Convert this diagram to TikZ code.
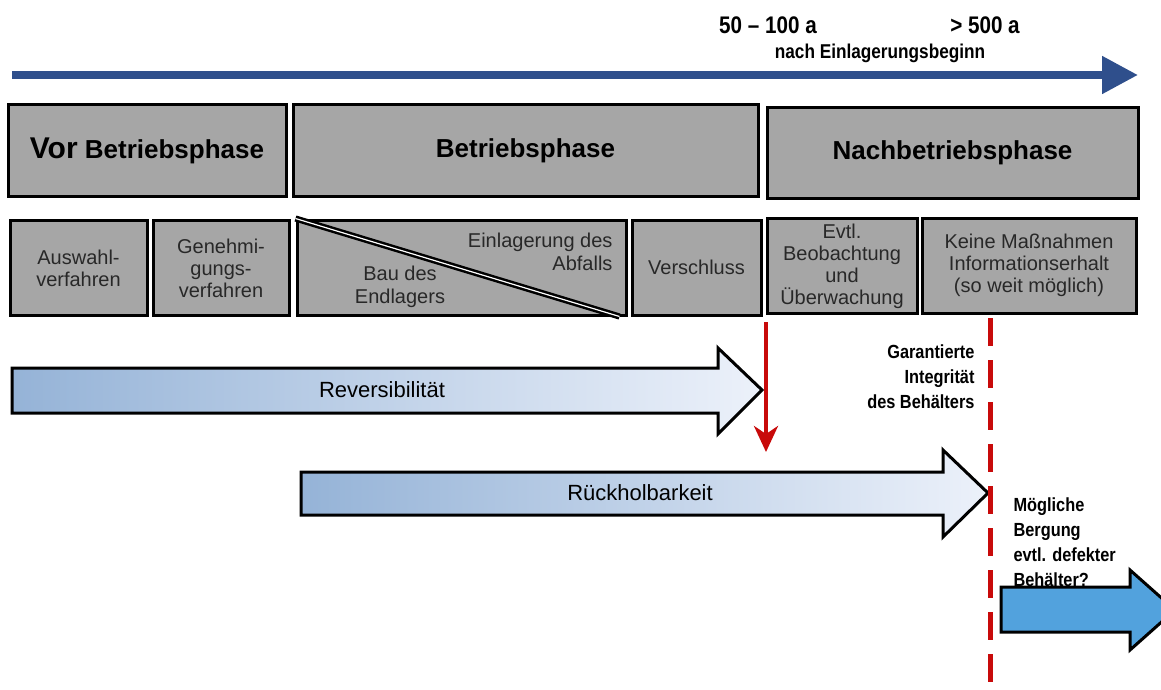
\documentclass[tikz,border=0pt]{standalone}
\usepackage{fontspec}
\setmainfont{Liberation Sans}
\newfontfamily\narrowsf[FakeStretch=0.86]{Liberation Sans}
\usetikzlibrary{positioning}
\usetikzlibrary{arrows.meta}
\definecolor{boxgray}{RGB}{166,166,166}
\definecolor{textgray}{RGB}{40,40,40}
\definecolor{timeblue}{RGB}{47,79,140}
\definecolor{darkred}{RGB}{200,10,10}
\definecolor{paleblue}{RGB}{149,179,215}
\definecolor{whiteblue}{RGB}{236,241,250}
\definecolor{skyblue}{RGB}{82,162,221}

\begin{document}
\begin{tikzpicture}[x=1pt, y=-1pt,
    phase/.style = {draw, line width=3pt, fill=boxgray, inner sep=0pt, font=\fontsize{26}{30}\selectfont\bfseries},
    stage/.style = {draw, line width=3pt, fill=boxgray, inner sep=0pt, minimum height=95pt, text=textgray, align=center, font=\fontsize{20}{22}\selectfont},
    block/.style = {draw, line width=3pt, line join=miter},
    note/.style = {font=\narrowsf\fontsize{19}{25}\selectfont\bfseries}]
            \useasboundingbox (0,0) rectangle (1161,690);
            % time axis
            \coordinate (t0) at (12,75);
            \coordinate (t1) at (1138,75);
            \draw[timeblue, line width=8pt, -{Triangle[length=36pt,width=36pt]}] (t0) -- (t1);
            \node[note, font=\narrowsf\fontsize{24}{28}\selectfont\bfseries](y100) at (768,25){50 – 100 a};
            \node[note, font=\narrowsf\fontsize{24}{28}\selectfont\bfseries](y500) at (985,25){> 500 a};
            \node[note, font=\narrowsf\fontsize{20}{24}\selectfont\bfseries](nach) at (880,53){nach Einlagerungsbeginn};
            % phases
            \node[phase, minimum width=278pt, minimum height=91pt](vor) at (147,150.5){{\fontsize{30}{34}\selectfont Vor} Betriebsphase};
            \node[phase, minimum width=465pt, minimum height=91pt](betrieb) at (525.5,150.5){Betriebsphase};
            \node[phase, minimum width=371pt, minimum height=90pt](nach betrieb) at (952.5,153){Nachbetriebsphase};
            % stages
            \node[stage, minimum width=137pt](auswahl) at (78.5,268){Auswahl-\\verfahren};
            \node[stage, minimum width=136pt](genehm) at (221,268){Genehmi-\\gungs-\\verfahren};
            \node[stage, minimum width=329pt](bau) at (461.5,267.5){};
            \draw[line width=2.5pt, double=white, double distance=1.2pt] (bau.north west) -- ([xshift=-8pt]bau.south east);
            \node[text=textgray, align=right, anchor=north east, font=\fontsize{20}{23}\selectfont](einl) at (616,229){Einlagerung des\\Abfalls};
            \node[text=textgray, align=center, font=\fontsize{20}{23}\selectfont](endl) at (400,287){Bau des\\Endlagers};
            \node[stage, minimum width=129pt](verschl) at (696.5,267.5){Verschluss};
            \node[stage, minimum width=150pt](beob) at (842,266){Evtl.\\Beobachtung\\und\\Überwachung};
            \node[stage, minimum width=214pt](keine) at (1029,265.5){Keine Maßnahmen\\Informationserhalt\\(so weit möglich)};
            % Reversibilitaet
            \draw[block, left color=paleblue, right color=whiteblue] (12,368) -- (718,368) -- (718,348) -- (762,390) -- (718,434) -- (718,413) -- (12,413) -- cycle;
            \node[font=\fontsize{22}{26}\selectfont](rev) at (382,390){Reversibilität};
            \coordinate (r0) at (766,322);
            \coordinate (r1) at (766,452);
            \draw[darkred, line width=4pt, -{Stealth[length=26pt,width=24pt,inset=8pt]}] (r0) -- (r1);
            % Rueckholbarkeit
            \draw[block, left color=paleblue, right color=whiteblue] (301,472) -- (943,472) -- (943,450) -- (988,493) -- (943,537) -- (943,515) -- (301,515) -- cycle;
            \node[font=\fontsize{22}{26}\selectfont](rueck) at (640,493){Rückholbarkeit};
            % integrity limit
            \coordinate (d0) at (990,318);
            \coordinate (d1) at (990,695);
            \draw[darkred, line width=5pt, dash pattern=on 28pt off 14pt] (d0) -- (d1);
            \node[note, align=right, anchor=north east](integr) at (978,341){Garantierte\\Integrität\\des Behälters};
            \node[note, align=left, anchor=north west](bergung) at (1010,494){Mögliche\\Bergung\\evtl. defekter\\Behälter?};
            \draw[block, fill=skyblue] (1001,587) -- (1130,587) -- (1130,570) -- (1175,610) -- (1130,650) -- (1130,632) -- (1001,632) -- cycle;
        \end{tikzpicture}
\end{document}
